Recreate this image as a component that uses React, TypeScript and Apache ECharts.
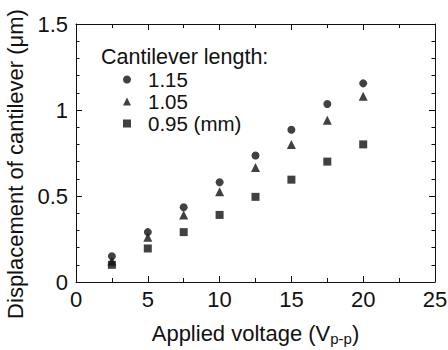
import React, { useEffect, useRef } from "react";
import * as echarts from "echarts";

const voltages = [2.5, 5, 7.5, 10, 12.5, 15, 17.5, 20];
const len115 = [0.15, 0.29, 0.435, 0.58, 0.735, 0.885, 1.035, 1.155];
const len105 = [0.12, 0.26, 0.39, 0.525, 0.665, 0.8, 0.94, 1.08];
const len095 = [0.1, 0.195, 0.29, 0.39, 0.495, 0.595, 0.7, 0.8];
const seriesNames = ["1.15", "1.05", "0.95 (mm)"];
const seriesSymbols = ["circle", "triangle", "rect"];
const seriesSizes = [8, 9, 8];
const legendTitle = "Cantilever length:";
const xName = "Applied voltage (V{sub|p-p})";
const yName = "Displacement of cantilever (\u03bcm)";

const FONT = "Liberation Sans, Arial, sans-serif";
const INK = "#111111";
const FS = 22;

export default function App() {
  const ref = useRef<HTMLDivElement>(null);
  useEffect(() => {
    if (!ref.current) return;
    const chart = echarts.init(ref.current, null, { renderer: "svg" });
    const values = [len115, len105, len095];
    const tickCommon = {
      axisLine: { show: true, onZero: false, lineStyle: { color: INK, width: 1 } },
      axisTick: { show: true, inside: true, length: 6, lineStyle: { color: INK } },
      minorTick: { show: true, length: 3.5, lineStyle: { color: INK } },
      splitLine: { show: false },
    };
    chart.setOption({
      animation: false,
      textStyle: { fontFamily: FONT },
      grid: { left: 76, right: 13, top: 24, bottom: 68, containLabel: false, outerBoundsMode: "none" },
      title: {
        text: legendTitle,
        left: 101,
        top: 47,
        textStyle: { fontFamily: FONT, fontSize: 21.5, lineHeight: 20, fontWeight: "normal", color: INK },
        padding: 0,
      },
      legend: {
        orient: "vertical",
        left: 123,
        top: 69,
        padding: 0,
        itemWidth: 8,
        itemHeight: 8,
        itemGap: 1,
        data: seriesNames,
        textStyle: { fontFamily: FONT, fontSize: 20.5, color: INK, lineHeight: 20, padding: [0, 0, 0, 12] },
      },
      xAxis: [
        {
          type: "value",
          min: 0,
          max: 25,
          interval: 5,
          ...tickCommon,
          minorTick: { ...tickCommon.minorTick, splitNumber: 2, length: 4 },
          axisLabel: { fontFamily: FONT, fontSize: FS, color: INK, margin: 6 },
          name: xName,
          nameLocation: "middle",
          nameGap: 39,
          nameTextStyle: {
            fontFamily: FONT,
            fontSize: FS,
            color: INK,
            rich: { sub: { fontFamily: FONT, fontSize: 15, color: INK, verticalAlign: "bottom", padding: [10, 0, 0, 0] } },
          },
        },
        {
          type: "value",
          position: "top",
          min: 0,
          max: 25,
          interval: 5,
          ...tickCommon,
          minorTick: { ...tickCommon.minorTick, splitNumber: 2, length: 4 },
          axisLabel: { show: false },
        },
      ],
      yAxis: [
        {
          type: "value",
          min: 0,
          max: 1.5,
          interval: 0.5,
          ...tickCommon,
          minorTick: { ...tickCommon.minorTick, splitNumber: 5 },
          axisLabel: { fontFamily: FONT, fontSize: FS, color: INK, margin: 8 },
          name: yName,
          nameLocation: "middle",
          nameGap: 50,
          nameTextStyle: { fontFamily: FONT, fontSize: FS, color: INK, padding: [0, 22, 0, 0] },
        },
        {
          type: "value",
          position: "right",
          min: 0,
          max: 1.5,
          interval: 0.5,
          ...tickCommon,
          minorTick: { ...tickCommon.minorTick, splitNumber: 5 },
          axisLabel: { show: false },
        },
      ],
      series: seriesNames.map((name, i) => ({
        name,
        type: "scatter",
        symbol: seriesSymbols[i],
        symbolSize: seriesSizes[i],
        itemStyle: { color: INK },
        data: voltages.map((v, j) => [v, values[i][j]]),
      })),
    });
    return () => chart.dispose();
  }, []);
  return <div ref={ref} style={{ width: 448, height: 350, position: "absolute", left: 0, top: 0, background: "#fff" }} />;
}
